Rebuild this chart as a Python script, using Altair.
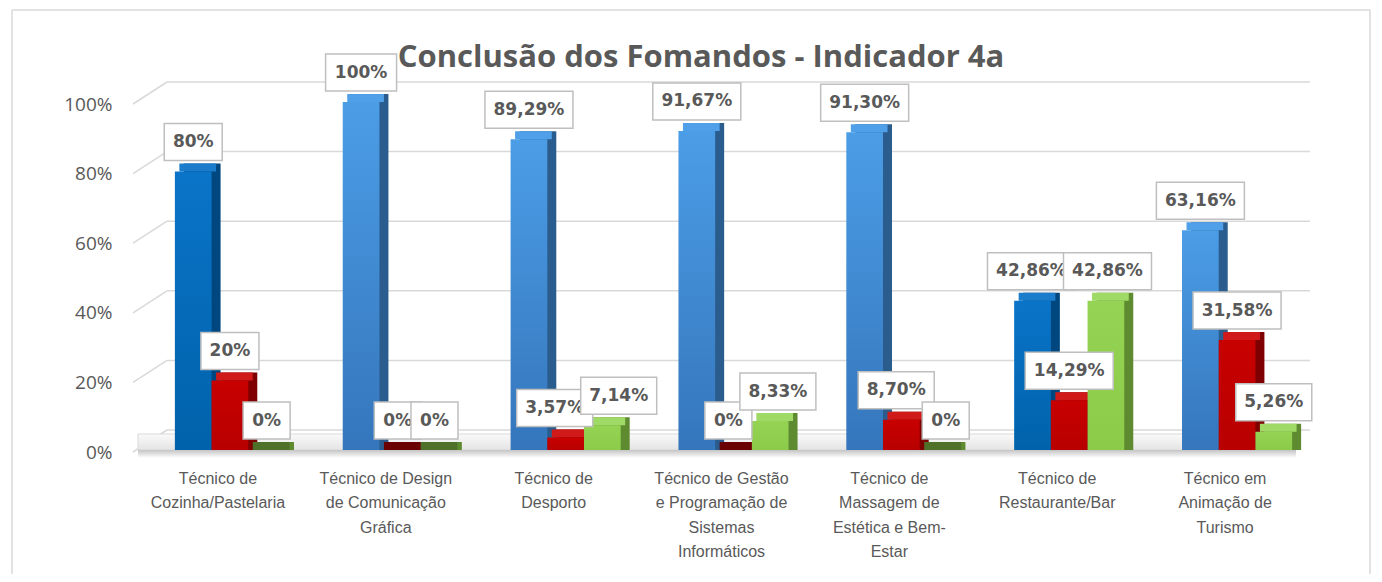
import altair as alt
import pandas as pd

# ---------------- data ----------------
categories = [
    "Técnico de\nCozinha/Pastelaria",
    "Técnico de Design\nde Comunicação\nGráfica",
    "Técnico de\nDesporto",
    "Técnico de Gestão\ne Programação de\nSistemas\nInformáticos",
    "Técnico de\nMassagem de\nEstética e Bem-\nEstar",
    "Técnico de\nRestaurante/Bar",
    "Técnico em\nAnimação de\nTurismo",
]
series = ["Série 1", "Série 2", "Série 3"]
values_s1 = [0.80, 1.00, 0.8929, 0.9167, 0.9130, 0.4286, 0.6316]
values_s2 = [0.20, 0.00, 0.0357, 0.00, 0.0870, 0.1429, 0.3158]
values_s3 = [0.00, 0.00, 0.0714, 0.0833, 0.00, 0.4286, 0.0526]
labels_s1 = ["80%", "100%", "89,29%", "91,67%", "91,30%", "42,86%", "63,16%"]
labels_s2 = ["20%", "0%", "3,57%", "0%", "8,70%", "14,29%", "31,58%"]
labels_s3 = ["0%", "0%", "7,14%", "8,33%", "0%", "42,86%", "5,26%"]
y_ticks = [0, 0.2, 0.4, 0.6, 0.8, 1.0]
title_text = "Conclusão dos Fomandos - Indicador 4a"

# ---------------- styles ----------------
dark_blue_cats = {0, 5}
front_grad = {
    "blue_d": ("#0A74C8", "#0062AA"),
    "blue_l": ("#4B9DE6", "#3576BC"),
    "red": ("#C80000", "#B80000"),
    "green": ("#94D353", "#8CCB4A"),
}
side_col = {"blue_d": "#00477F", "blue_l": "#2B5C8E", "red": "#7E0000", "green": "#5E8A30"}
top_col = {"blue_d": "#1A7CCB", "blue_l": "#4FA0E8", "red": "#D01A1A", "green": "#A0DA66"}
zero_col = {"blue_d": "#00477F", "blue_l": "#2B5C8E", "red": "#6A0000", "green": "#4F7028"}
TXT = "#595959"
PLOT_W, PLOT_H = 1175, 348
BW = 36.7          # bar width in px
DEPTH_X, DEPTH_Y = 9, 8
BOX_H_TOP, BOX_H_BOT = 48, 11


def box_width(label):
    return {2: 47, 3: 58, 4: 71, 5: 76, 6: 88}.get(len(label), 12 * len(label) + 16)


def series_key(si, ci):
    if si == 0:
        return "blue_d" if ci in dark_blue_cats else "blue_l"
    return "red" if si == 1 else "green"


rows = []
all_vals = [values_s1, values_s2, values_s3]
all_labs = [labels_s1, labels_s2, labels_s3]
for si, (s, vals, labs) in enumerate(zip(series, all_vals, all_labs)):
    for ci, (c, v, l) in enumerate(zip(categories, vals, labs)):
        key = series_key(si, ci)
        rows.append({
            "cat": c, "ci": ci, "series": s, "si": si, "value": v, "label": l,
            "key": key, "side": side_col[key],
            "top": zero_col[key] if v == 0 else top_col[key],
        })
df = pd.DataFrame(rows)
grid_df = pd.DataFrame({"tick": y_ticks})

# simple label collision avoidance (like the spreadsheet's nudging)
nudge = {}
for ci in range(len(categories)):
    items = []
    for si in range(len(series)):
        v = all_vals[si][ci]
        lab = all_labs[si][ci]
        cx = (si - 1) * BW
        ybot = PLOT_H * (1 - v) - BOX_H_BOT
        items.append([si, cx, box_width(lab), ybot])
    for a in range(len(items)):
        for b in range(a + 1, len(items)):
            ia, ib = items[a], items[b]
            if abs(ia[3] - ib[3]) >= (BOX_H_TOP - BOX_H_BOT):
                continue
            overlap = (ia[1] + ia[2] / 2) - (ib[1] - ib[2] / 2)
            excess = overlap - 12
            if excess > 0:
                ia[1] -= excess * 0.4
                ib[1] += excess * 0.6
    for it in items:
        nudge[(it[0], ci)] = it[1] - (it[0] - 1) * BW

y_scale = alt.Scale(domain=[0, 1], nice=False)
y_axis = alt.Axis(
    title=None, values=y_ticks, format=".0%", labelFont="Open Sans",
    labelFontSize=19, labelColor=TXT, labelPadding=34, labelOffset=2,
    ticks=False, domain=False, grid=False,
)
x_enc = alt.X(
    "cat:N", sort=categories,
    scale=alt.Scale(paddingInner=0.3445, paddingOuter=0.17225),
    axis=alt.Axis(
        title=None, labelAngle=0, labelExpr="split(datum.label, '\\n')",
        labelFont="Liberation Sans", labelFontSize=16, labelColor=TXT,
        labelLineHeight=24.5, labelPadding=20, labelOffset=-12, labelLimit=400,
        ticks=False, domain=False, grid=False,
    ),
)
y_val = alt.Y("value:Q", scale=y_scale, axis=y_axis)
y_tick = alt.Y("tick:Q", scale=y_scale, axis=y_axis)

base = alt.Chart(df)
zero_only = alt.Chart(grid_df).transform_filter("datum.tick == 0")

# background gridlines (3D style)
grid_back = alt.Chart(grid_df).mark_rule(color="#D9D9D9", strokeWidth=1.5, yOffset=-20).encode(
    y=y_tick, x=alt.value(21), x2=alt.value(1164),
)
grid_diag = alt.Chart(grid_df).mark_rule(color="#D9D9D9", strokeWidth=1.5, yOffset=2, y2Offset=-20).encode(
    y=y_tick, y2="tick:Q", x=alt.value(-13), x2=alt.value(21),
)
floor_plate = zero_only.mark_rect(
    yOffset=-16, y2Offset=0, stroke="#D9D9D9", strokeWidth=1,
    color=alt.LinearGradient(gradient="linear", x1=0, x2=0, y1=0, y2=1,
                             stops=[alt.GradientStop(color="#FAFAFA", offset=0),
                                    alt.GradientStop(color="#E4E4E4", offset=1)]),
).encode(y=y_tick, y2="tick:Q", x=alt.value(-8), x2=alt.value(1150))
floor_shadow = zero_only.mark_rect(
    yOffset=0, y2Offset=8,
    color=alt.LinearGradient(gradient="linear", x1=0, x2=0, y1=0, y2=1,
                             stops=[alt.GradientStop(color="#C4C4C4", offset=0),
                                    alt.GradientStop(color="#FFFFFF", offset=1)]),
).encode(y=y_tick, y2="tick:Q", x=alt.value(-8), x2=alt.value(1150))

side_layers, top_layers, front_layers = [], [], []
for si, s in enumerate(series):
    off = (si - 1) * BW
    sb = base.transform_filter(f"datum.si == {si}")
    side_layers.append(sb.mark_bar(width=BW, xOffset=off + DEPTH_X, yOffset=-DEPTH_Y, y2Offset=0).encode(
        x=x_enc, y=y_val, y2=alt.datum(0), fill=alt.Fill("side:N", scale=None)))
    top_layers.append(sb.mark_bar(width=BW, xOffset=off + DEPTH_X / 2, yOffset=-DEPTH_Y, y2Offset=0).encode(
        x=x_enc, y=y_val, y2="value:Q", fill=alt.Fill("top:N", scale=None)))
    keys = ["blue_d", "blue_l"] if si == 0 else ["red" if si == 1 else "green"]
    for k in keys:
        c_top, c_bot = front_grad[k]
        front_layers.append(
            sb.transform_filter(f"datum.key == '{k}'").mark_bar(
                width=BW, xOffset=off,
                color=alt.LinearGradient(gradient="linear", x1=0, x2=0, y1=0, y2=1,
                                         stops=[alt.GradientStop(color=c_top, offset=0),
                                                alt.GradientStop(color=c_bot, offset=1)]),
            ).encode(x=x_enc, y=y_val, y2=alt.datum(0))
        )

label_layers = []
for si, s in enumerate(series):
    for ci in range(len(categories)):
        lab = all_labs[si][ci]
        pos = (si - 1) * BW + nudge[(si, ci)]
        lb = base.transform_filter(f"datum.si == {si} && datum.ci == {ci}")
        label_layers.append(
            lb.mark_bar(width=box_width(lab), xOffset=pos, yOffset=-BOX_H_TOP,
                        y2Offset=-BOX_H_BOT, fill="white", stroke="#BFBFBF",
                        strokeWidth=1.5).encode(x=x_enc, y=y_val, y2="value:Q")
        )
        label_layers.append(
            lb.mark_text(xOffset=pos, dy=-(BOX_H_TOP + BOX_H_BOT) / 2, baseline="middle",
                         align="center", font="DejaVu Sans", fontWeight="bold",
                         fontSize=17, color=TXT).encode(x=x_enc, y=y_val, text="label:N")
        )

title = zero_only.mark_text(
    text=title_text, font="Open Sans", fontWeight="bold", fontSize=31,
    color=TXT, baseline="middle", align="center",
).encode(x=alt.value(555), y=alt.value(-44))

border = zero_only.mark_rule(color="#D9D9D9", strokeWidth=1.5)
b_left = border.encode(x=alt.value(-134), y=alt.value(-92), y2=alt.value(480))
b_right = border.encode(x=alt.value(1224), y=alt.value(-92), y2=alt.value(480))
b_top = border.encode(x=alt.value(-134), x2=alt.value(1224), y=alt.value(-92))

chart = alt.layer(
    grid_back, grid_diag, b_left, b_right, b_top, floor_plate, floor_shadow,
    *side_layers, *top_layers, *front_layers, *label_layers, title,
).properties(
    width=PLOT_W, height=PLOT_H,
    autosize=alt.AutoSizeParams(type="none"),
    padding={"left": 138, "top": 94, "right": 53, "bottom": 124},
    background="white",
).configure_view(strokeWidth=0)

chart.save("out.html", embed_options={"renderer": "svg", "actions": False})
